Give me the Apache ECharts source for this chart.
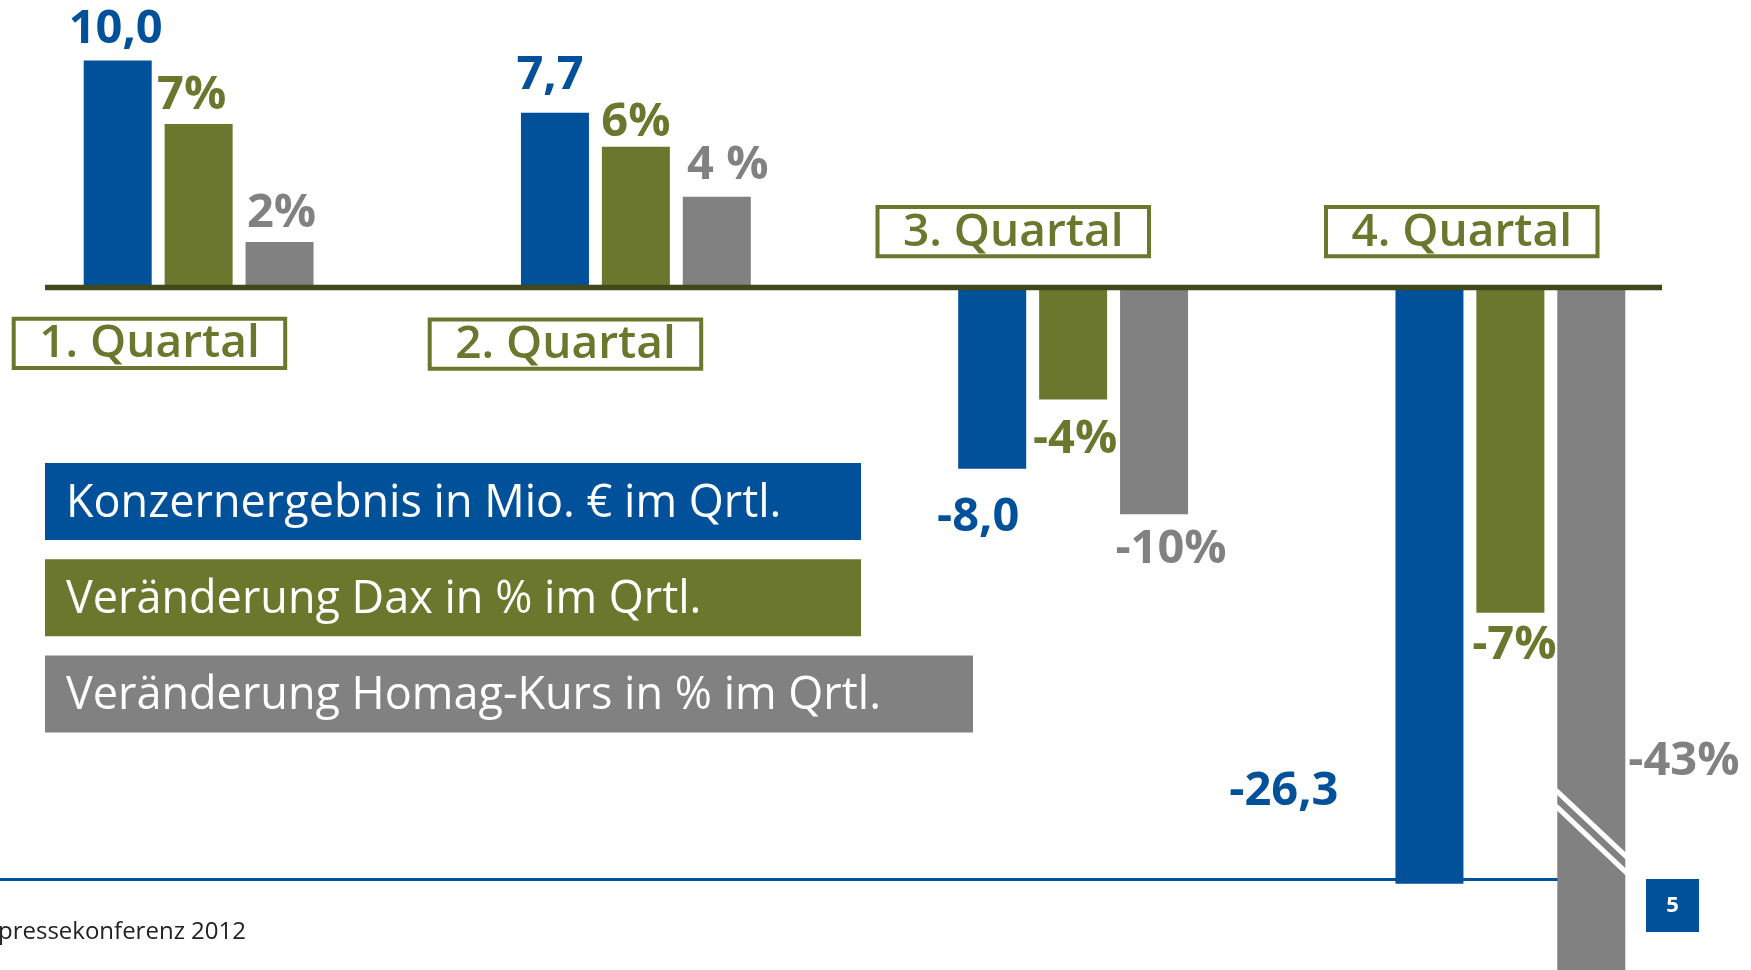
<!DOCTYPE html>
<html>
<head>
<meta charset="utf-8">
<style>
  html, body { margin: 0; padding: 0; background: #fff; }
  #chart { width: 1751px; height: 970px; }
</style>
<script src="https://cdn.jsdelivr.net/npm/echarts@6/dist/echarts.min.js"></script>
</head>
<body>
<div id="chart"></div>
<script>
var quarters = ['1. Quartal', '2. Quartal', '3. Quartal', '4. Quartal'];
var seriesNames = ['Konzernergebnis in Mio. € im Qrtl.', 'Veränderung Dax in % im Qrtl.', 'Veränderung Homag-Kurs in % im Qrtl.'];

// bar lengths as drawn on the slide (one common scale, 1 unit = 1 Mio. €)
var konzernBars = [10.0, 7.7, -8.0, -26.3];
var daxBars = [7.2, 6.2, -4.95, -14.35];
var homagBars = [2.0, 4.0, -10.0, -43.0];

// values as printed next to the bars
var konzernLabels = ['10,0', '7,7', '-8,0', '-26,3'];
var daxLabels = ['7%', '6%', '-4%', '-7%'];
var homagLabels = ['2%', '4 %', '-10%', '-43%'];

var footerText = 'pressekonferenz 2012';
var pageNumber = '5';

(function() {
  var blue = '#00509a';
  var green = '#6b772c';
  var grey = '#818181';
  var axisColor = '#41481c';
  var font = '"Open Sans", "Noto Sans", sans-serif';

  // label placement: [position, dx, dy]
  var konzernPos = [['top', -2, -7], ['top', -5, -14], ['bottom', -14, 25], ['left', -57, 206]];
  var daxPos = [['top', -7, -5], ['top', 0, -1], ['bottom', 2, 16], ['bottom', 4, 9]];
  var homagPos = [['top', 2, -5], ['top', 11, -8], ['bottom', 17, 12], ['right', 3, 133]];

  function barData(values, labels, pos, color) {
    return values.map(function(v, i) {
      return {
        value: v,
        label: {
          show: true, formatter: labels[i], position: pos[i][0], distance: 0,
          offset: [pos[i][1], pos[i][2]], color: color
        }
      };
    });
  }

  var barLabel = { fontFamily: font, fontSize: 47, fontWeight: 'bold' };

  var chart = echarts.init(document.getElementById('chart'), null, { renderer: 'canvas' });
  chart.setOption({
    animation: false,
    backgroundColor: '#ffffff',
    grid: { left: -20, top: 0, width: 1749, height: 970, outerBoundsMode: 'none', containLabel: false },
    xAxis: {
      type: 'category',
      data: quarters,
      axisLine: { show: false },
      axisTick: { show: false },
      axisLabel: { show: false },
      splitLine: { show: false }
    },
    yAxis: {
      type: 'value',
      min: -30.1,
      max: 12.67,
      axisLine: { show: false },
      axisTick: { show: false },
      axisLabel: { show: false },
      splitLine: { show: false }
    },
    series: [
      {
        name: seriesNames[0], type: 'bar', barWidth: 68, barGap: '19%',
        itemStyle: { color: blue }, label: barLabel,
        data: barData(konzernBars, konzernLabels, konzernPos, blue)
      },
      {
        name: seriesNames[1], type: 'bar', barWidth: 68, barGap: '19%',
        itemStyle: { color: green }, label: barLabel,
        data: barData(daxBars, daxLabels, daxPos, green)
      },
      {
        name: seriesNames[2], type: 'bar', barWidth: 68, barGap: '19%',
        itemStyle: { color: grey }, label: barLabel,
        data: barData(homagBars, homagLabels, homagPos, grey)
      }
    ]
  });

  var zeroY = chart.convertToPixel({ yAxisIndex: 0 }, 0);

  var graphics = [];
  // footer rule (behind the bars)
  graphics.push({ type: 'rect', z: 0, shape: { x: 0, y: 878, width: 1562, height: 3 }, style: { fill: blue } });
  // zero line
  graphics.push({ type: 'rect', z: 20, shape: { x: 45, y: zeroY - 2.5, width: 1617, height: 5.5 }, style: { fill: axisColor } });

  // quarter boxes
  var boxPos = [[11.7, 316.7], [427.7, 317.5], [875.5, 205], [1324, 205]];
  quarters.forEach(function(q, i) {
    var x = boxPos[i][0], y = boxPos[i][1], w = 275.5, h = 53.3;
    graphics.push({
      type: 'rect', z: 20,
      shape: { x: x + 2, y: y + 2, width: w - 4, height: h - 4 },
      style: { fill: '#ffffff', stroke: green, lineWidth: 4 }
    });
    graphics.push({
      type: 'text', z: 21,
      style: {
        text: q, x: x + w / 2, y: y + h / 2 + 1,
        align: 'center', verticalAlign: 'middle', textAlign: 'center', textVerticalAlign: 'middle',
        fontFamily: font, fontSize: 46, fontWeight: 600, fill: green
      }
    });
  });

  // legend boxes
  var legendColors = [blue, green, grey];
  var legendWidths = [816, 816, 928];
  seriesNames.forEach(function(name, i) {
    var y = 463 + i * 96.3;
    graphics.push({ type: 'rect', z: 20, shape: { x: 45, y: y, width: legendWidths[i], height: 77 }, style: { fill: legendColors[i] } });
    graphics.push({
      type: 'text', z: 21,
      style: {
        text: name, x: 66, y: y + 41,
        align: 'left', verticalAlign: 'middle', textAlign: 'left', textVerticalAlign: 'middle',
        fontFamily: font, fontSize: 45, fill: '#ffffff'
      }
    });
  });

  // axis break on the -43% bar
  [[790.4, 866.6], [806.1, 882.6]].forEach(function(l) {
    graphics.push({ type: 'line', z: 20, shape: { x1: 1556, y1: l[0], x2: 1637, y2: l[1] }, style: { stroke: '#ffffff', lineWidth: 5 } });
  });

  // page number
  graphics.push({ type: 'rect', z: 20, shape: { x: 1646, y: 879, width: 53, height: 53 }, style: { fill: blue } });
  graphics.push({
    type: 'text', z: 21,
    style: {
      text: pageNumber, x: 1672.5, y: 906,
      align: 'center', verticalAlign: 'middle', textAlign: 'center', textVerticalAlign: 'middle',
      fontFamily: font, fontSize: 22, fontWeight: 'bold', fill: '#ffffff'
    }
  });

  // footer text, cut at the left edge as on the slide
  graphics.push({
    type: 'text', z: 21,
    style: {
      text: footerText, x: 246, y: 932,
      align: 'right', verticalAlign: 'middle', textAlign: 'right', textVerticalAlign: 'middle',
      fontFamily: font, fontSize: 24, fill: '#222222'
    }
  });

  chart.setOption({ graphic: graphics });
  window.addEventListener('resize', function() { chart.resize(); });
})();
</script>
</body>
</html>
